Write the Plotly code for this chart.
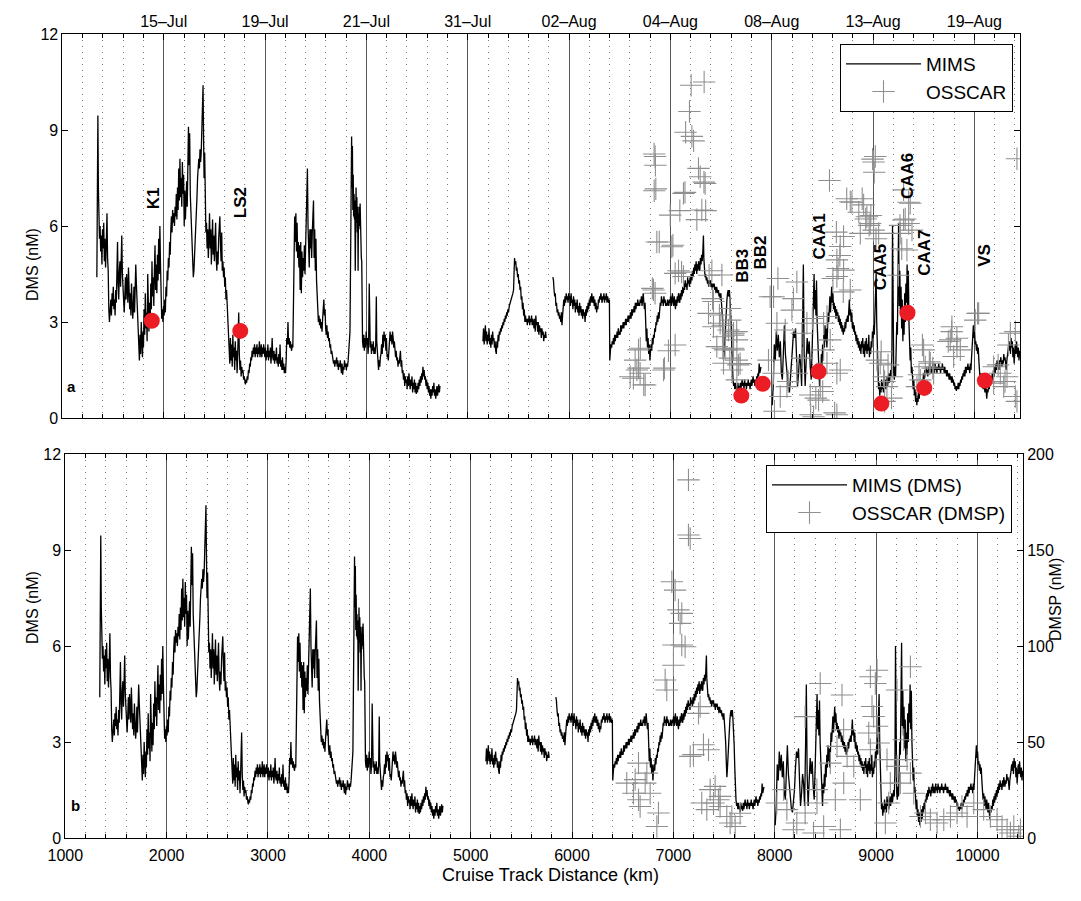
import plotly.graph_objects as go

# ---------------- MIMS DMS (nM) along cruise track (km), four continuous segments ----------------
seg1 = [
(1340,4.4),(1344,5.9),(1350,9.45),(1355,7.2),(1360,5.8),(1366,5.6),(1372,6.0),(1378,5.2),(1384,5.7),(1390,4.8),
(1396,5.9),(1402,5.3),(1408,6.1),(1414,4.9),(1420,5.6),(1426,4.7),(1432,5.3),(1440,6.4),(1446,5.0),(1452,4.6),
(1458,3.4),(1464,3.0),(1470,3.3),(1478,3.7),(1484,3.2),(1490,3.9),(1496,3.5),(1502,4.1),(1508,3.4),(1514,3.7),
(1520,3.2),(1526,4.0),(1532,3.6),(1538,4.4),(1544,5.5),(1550,4.2),(1556,3.7),(1562,4.6),(1568,4.9),(1574,4.1),
(1580,5.2),(1586,5.7),(1592,4.5),(1598,3.9),(1604,3.4),(1610,3.3),(1616,3.8),(1622,4.4),(1628,3.7),(1634,4.5),
(1640,4.1),(1646,3.6),(1652,4.7),(1658,4.0),(1664,3.4),(1670,3.9),(1676,3.2),(1682,4.2),(1688,3.6),(1694,3.1),
(1700,3.4),(1706,4.1),(1712,3.3),(1718,3.9),(1724,4.8),(1730,4.2),(1736,3.6),(1742,3.2),(1748,2.9),(1754,2.2),
(1760,1.8),(1766,2.6),(1772,2.0),(1778,3.0),(1784,2.3),(1790,1.9),(1796,2.7),(1800,2.2),(1806,3.4),(1812,2.6),
(1818,3.9),(1824,2.8),(1830,3.3),(1836,2.4),(1842,4.5),(1848,3.1),(1854,2.7),(1860,3.6),(1866,2.9),(1872,4.2),
(1878,3.4),(1884,4.9),(1890,3.8),(1896,4.4),(1902,3.5),(1908,4.6),(1914,5.4),(1920,4.0),(1926,4.8),(1932,3.9),
(1938,5.1),(1944,4.3),(1950,5.6),(1956,4.5),(1962,6.0),(1968,4.8),(1974,3.6),(1980,3.1),(1986,3.4),(1992,3.0),
(1998,3.5),(2004,3.2),(2010,3.7),(2016,3.3),(2022,4.1),(2028,3.8),(2034,4.6),(2040,4.3),(2046,5.0),(2052,4.7),
(2058,5.5),(2064,5.1),(2070,5.9),(2076,6.3),(2082,5.8),(2088,6.5),(2094,6.1),(2100,6.4),(2106,6.0),(2112,6.6),
(2118,6.3),(2124,7.0),(2130,6.2),(2136,7.2),(2142,6.5),(2148,7.8),(2154,6.8),(2160,8.1),(2166,6.9),(2172,7.5),
(2178,6.6),(2184,8.0),(2190,7.0),(2196,7.6),(2202,6.0),(2208,7.1),(2214,6.2),(2220,6.8),(2226,7.4),(2232,6.6),
(2238,8.4),(2244,9.1),(2250,7.9),(2256,8.9),(2262,7.0),(2268,6.5),(2274,5.6),(2280,4.9),(2286,4.5),(2292,4.4),
(2298,4.6),(2304,5.0),(2310,5.4),(2316,5.9),(2322,6.4),(2328,6.9),(2334,7.5),(2340,7.9),(2346,8.1),(2352,7.8),
(2358,8.4),(2364,8.0),(2370,8.3),(2376,9.0),(2382,9.6),(2388,10.4),(2393,8.8),(2398,7.5),(2404,8.3),(2410,6.8),
(2416,5.8),(2422,6.1),(2428,5.3),(2434,5.9),(2440,5.0),(2446,5.6),(2452,6.4),(2458,5.3),(2464,5.9),(2470,4.8),
(2476,5.5),(2482,6.2),(2488,5.1),(2494,5.7),(2500,4.9),(2506,5.3),(2512,6.1),(2518,5.0),(2524,4.6),(2530,5.2),
(2536,4.8),(2542,5.6),(2548,6.0),(2554,6.3),(2560,5.4),(2566,4.9),(2572,5.8),(2578,4.6),(2584,4.9),(2590,4.4),
(2596,4.7),(2602,4.1),(2608,4.4),(2614,3.7),(2620,4.0),(2626,3.5),(2632,3.6),(2638,3.1),(2646,2.2),(2652,1.7),
(2658,2.5),(2664,1.8),(2670,2.3),(2676,1.6),(2682,2.6),(2688,1.9),(2694,2.2),(2700,1.5),(2706,2.4),(2712,1.8),
(2718,2.1),(2724,1.4),(2730,2.0),(2736,2.6),(2740,3.3),(2746,2.0),(2752,1.5),(2758,1.8),(2764,1.3),(2770,1.6),
(2776,1.4),(2782,1.5),(2788,1.2),(2794,1.3),(2800,1.1),(2806,1.05),(2812,1.2),(2818,1.1),(2824,1.3),(2830,1.2),
(2836,1.5),(2842,1.4),(2848,1.7),(2854,1.6),(2860,1.9),(2866,1.8),(2872,2.1),(2878,1.9),(2884,2.2),(2890,2.0),
(2896,2.3),(2902,1.9),(2908,2.2),(2914,2.0),(2920,2.3),(2926,1.9),(2932,2.2),(2938,2.0),(2944,2.4),(2950,1.9),
(2956,2.1),(2962,2.3),(2968,1.9),(2974,2.2),(2980,2.0),(2986,2.3),(2992,2.1),(2998,1.9),(3004,2.2),(3010,1.8),
(3016,2.1),(3022,1.9),(3028,2.3),(3034,1.8),(3040,2.1),(3046,1.9),(3052,2.2),(3058,1.7),(3064,2.0),(3070,2.5),
(3076,1.9),(3082,1.8),(3088,2.1),(3094,1.7),(3100,2.0),(3106,1.8),(3112,2.2),(3118,1.7),(3124,1.9),(3130,1.6),
(3136,2.0),(3142,1.7),(3148,2.3),(3154,1.6),(3160,1.8),(3166,1.5),(3172,1.9),(3178,1.5),(3184,1.7),(3190,1.4),
(3196,1.6),(3202,1.4),(3208,1.8),(3214,2.5),(3220,2.3),(3226,3.0),(3232,2.3),(3238,2.5),(3244,2.2),(3250,2.4),
(3256,2.2),(3262,2.1),(3268,2.3),(3274,2.2),(3280,3.5),(3286,5.6),(3292,6.3),(3298,5.5),(3304,6.4),(3310,5.2),
(3316,6.1),(3322,5.0),(3328,5.5),(3334,4.7),(3340,5.4),(3346,4.0),(3352,5.5),(3358,3.9),(3364,5.2),(3370,4.4),
(3376,5.0),(3382,4.6),(3388,5.4),(3394,4.5),(3400,5.6),(3406,6.2),(3412,7.0),(3418,7.8),(3424,6.0),(3430,5.4),
(3436,4.7),(3442,5.9),(3448,5.3),(3454,5.9),(3460,5.0),(3466,5.8),(3472,6.4),(3478,6.8),(3484,5.0),(3490,5.9),
(3496,4.6),(3502,5.6),(3508,4.3),(3514,3.8),(3520,3.3),(3526,3.0),(3532,3.2),(3538,2.9),(3544,3.1),(3550,2.8),
(3556,3.0),(3562,2.7),(3568,3.1),(3574,3.3),(3580,3.7),(3586,3.2),(3592,3.4),(3598,2.8),(3604,2.6),(3610,2.9),
(3616,2.5),(3622,2.7),(3628,2.4),(3634,2.5),(3640,2.2),(3646,2.3),(3652,2.0),(3658,2.1),(3664,1.9),(3670,1.8),
(3676,1.7),(3682,1.8),(3688,1.6),(3694,1.8),(3700,1.7),(3706,1.9),(3712,1.6),(3718,1.8),(3724,1.5),(3730,1.7),
(3736,1.6),(3742,1.8),(3748,1.5),(3754,1.4),(3760,1.7),(3766,1.35),(3772,1.6),(3778,1.5),(3784,1.8),(3790,1.6),
(3796,1.7),(3802,1.5),(3808,1.7),(3814,1.6),(3820,1.8),(3826,2.0),(3832,2.4),(3838,2.7),(3842,4.5),(3846,6.6),
(3850,7.4),(3854,8.8),(3858,7.2),(3862,8.5),(3866,6.5),(3870,7.6),(3874,6.3),(3878,7.0),(3882,6.2),(3886,6.8),
(3890,4.6),(3894,6.5),(3898,7.2),(3902,6.1),(3906,6.9),(3910,5.8),(3914,6.6),(3918,4.6),(3922,6.4),(3926,5.9),
(3930,6.6),(3934,6.0),(3938,6.7),(3942,5.4),(3946,6.2),(3950,5.0),(3954,4.9),(3958,3.0),(3962,2.4),(3968,2.2),
(3974,2.6),(3980,2.1),(3986,2.5),(3992,2.2),(3998,2.7),(4004,2.3),(4010,2.5),(4016,2.0),(4022,2.3),(4028,4.2),
(4032,2.6),(4038,2.2),(4044,2.4),(4050,2.0),(4056,2.3),(4062,2.1),(4068,2.4),(4074,2.0),(4080,2.2),(4086,2.0),
(4092,2.3),(4098,3.8),(4102,2.4),(4108,2.0),(4114,1.7),(4120,1.5),(4126,1.8),(4132,1.6),(4138,1.9),(4144,2.0),
(4150,2.3),(4156,2.0),(4162,2.6),(4168,2.2),(4174,2.7),(4180,2.4),(4186,2.6),(4192,2.1),(4198,2.5),(4204,1.9),
(4210,2.0),(4216,1.8),(4222,2.2),(4228,2.5),(4234,2.7),(4240,2.4),(4246,2.6),(4252,2.3),(4258,2.7),(4264,2.5),
(4270,2.2),(4276,2.4),(4282,2.0),(4288,1.9),(4294,2.1),(4300,1.8),(4306,1.9),(4312,1.6),(4318,1.8),(4324,1.7),
(4330,1.9),(4336,2.1),(4342,1.6),(4348,1.8),(4354,1.4),(4360,1.5),(4366,1.2),(4372,1.4),(4378,1.0),(4384,1.3),
(4390,1.1),(4396,1.2),(4402,0.9),(4408,1.3),(4414,1.0),(4420,1.4),(4426,1.1),(4432,0.9),(4438,1.2),(4444,1.0),
(4450,1.3),(4456,0.8),(4462,1.1),(4468,0.9),(4474,1.2),(4480,0.8),(4486,1.1),(4492,0.75),(4498,1.0),(4504,0.8),
(4510,1.1),(4516,0.9),(4522,1.2),(4528,1.0),(4534,1.3),(4540,1.1),(4546,1.4),(4552,1.2),(4558,1.6),(4564,1.3),
(4570,1.5),(4576,1.2),(4582,1.3),(4588,1.0),(4594,1.2),(4600,0.9),(4606,1.1),(4612,0.8),(4618,1.0),(4624,0.7),
(4630,0.9),(4636,0.6),(4642,0.9),(4648,0.7),(4654,1.0),(4660,0.8),(4666,1.1),(4672,0.7),(4678,0.9),(4684,0.6),
(4690,0.8),(4696,1.0),(4702,0.7),(4708,0.9),(4714,1.05),(4720,0.8),(4726,1.0),
]
seg2 = [
(5150,2.4),(5156,2.8),(5162,2.3),(5168,2.6),(5174,2.9),(5180,2.4),(5186,2.7),(5192,2.3),(5198,2.6),(5204,2.4),
(5210,2.8),(5216,2.3),(5222,2.5),(5228,2.2),(5234,2.6),(5240,2.3),(5246,2.7),(5252,2.4),(5258,2.5),(5264,2.2),
(5270,2.4),(5276,2.1),(5282,2.0),(5288,2.4),(5294,2.2),(5300,2.6),(5306,2.4),(5312,2.7),(5318,2.6),(5324,2.8),
(5330,2.7),(5336,2.9),(5342,2.8),(5348,3.0),(5354,2.9),(5360,3.1),(5366,3.0),(5372,3.2),(5378,3.1),(5384,3.3),
(5390,3.2),(5396,3.4),(5402,3.3),(5410,3.5),(5420,3.6),(5430,3.7),(5440,3.8),(5446,3.9),(5452,4.0),(5458,4.7),
(5462,5.0),(5468,4.8),(5474,4.9),(5480,4.6),(5486,4.7),(5492,4.4),(5498,4.5),(5504,4.2),(5510,4.3),(5516,4.0),
(5522,4.1),(5528,3.7),(5534,3.8),(5540,3.4),(5546,3.6),(5552,3.2),(5558,3.4),(5564,3.0),(5570,3.2),(5576,3.0),
(5582,3.1),(5588,2.9),(5594,3.1),(5600,3.0),(5606,3.2),(5612,2.9),(5618,3.1),(5624,3.0),(5630,3.2),(5636,2.9),
(5642,3.1),(5648,3.0),(5654,2.8),(5660,3.1),(5666,2.7),(5672,3.2),(5678,2.9),(5684,3.0),(5690,2.7),(5696,3.0),
(5702,2.6),(5708,2.9),(5714,2.7),(5720,2.8),(5726,2.5),(5732,2.8),(5738,2.6),(5744,2.7),(5750,2.4),(5756,2.6),
(5762,2.5),(5768,2.7),(5774,2.5),
]
seg3 = [
(5840,4.4),(5846,4.3),(5852,4.0),(5858,3.8),(5864,3.9),(5870,3.5),(5876,3.6),(5882,3.3),(5888,3.4),(5894,3.2),
(5900,3.3),(5906,3.1),(5912,3.2),(5918,3.0),(5924,3.3),(5930,2.9),(5936,3.2),(5942,3.4),(5948,3.7),(5954,3.5),
(5960,3.8),(5966,3.6),(5972,3.9),(5978,3.7),(5984,3.8),(5990,3.6),(5996,3.9),(6002,3.7),(6008,3.8),(6014,3.5),
(6020,3.9),(6026,3.6),(6032,3.7),(6038,3.4),(6044,3.8),(6050,3.5),(6056,3.7),(6062,3.3),(6068,3.6),(6074,3.4),
(6080,3.7),(6086,3.3),(6092,3.5),(6098,3.2),(6104,3.6),(6110,3.3),(6116,3.5),(6122,3.2),(6128,3.4),(6134,3.1),
(6140,3.4),(6146,3.2),(6152,3.3),(6158,3.0),(6164,3.4),(6170,3.2),(6176,3.5),(6182,3.3),(6188,3.6),(6194,3.4),
(6200,3.7),(6206,3.5),(6212,3.8),(6218,3.6),(6224,3.9),(6230,3.7),(6236,3.6),(6242,3.8),(6248,3.5),(6254,3.7),
(6260,3.4),(6266,3.6),(6272,3.3),(6278,3.5),(6284,3.4),(6290,3.7),(6296,3.6),(6302,3.8),(6308,3.7),(6314,3.9),
(6320,3.8),(6326,3.6),(6332,3.8),(6338,3.7),(6344,3.9),(6350,3.6),(6356,3.8),(6362,3.7),(6368,3.9),(6374,3.6),
(6380,3.8),(6386,3.7),(6392,3.6),(6398,3.7),(6402,1.8),(6408,2.1),(6414,2.3),(6420,2.2),(6426,2.4),(6432,2.3),
(6438,2.5),(6444,2.3),(6450,2.6),(6456,2.4),(6462,2.6),(6468,2.5),(6474,2.7),(6480,2.5),(6486,2.8),(6492,2.6),
(6498,2.7),(6504,2.6),(6510,2.9),(6516,2.7),(6522,2.9),(6528,2.8),(6534,3.0),(6540,2.8),(6546,3.0),(6552,2.9),
(6558,3.1),(6564,2.9),(6570,3.1),(6576,3.0),(6582,3.2),(6588,3.0),(6594,3.2),(6600,3.1),(6606,3.3),(6612,3.1),
(6618,3.4),(6624,3.2),(6630,3.4),(6636,3.3),(6642,3.5),(6648,3.3),(6654,3.6),(6660,3.4),(6666,3.6),(6672,3.5),
(6678,3.7),(6684,3.5),(6690,3.6),(6696,3.5),(6702,3.7),(6708,3.6),(6714,3.8),(6720,3.5),(6726,3.7),(6732,3.9),
(6738,3.6),(6744,3.4),(6750,3.6),(6756,3.2),(6762,2.4),(6768,2.8),(6774,2.2),(6780,2.5),(6786,2.0),(6792,2.3),
(6798,1.8),(6804,2.1),(6810,2.3),(6816,2.1),(6822,2.5),(6828,2.3),(6834,2.6),(6840,2.5),(6846,2.8),(6852,2.7),
(6858,3.0),(6864,2.9),(6870,3.2),(6876,3.0),(6882,3.3),(6888,3.1),(6894,3.4),(6900,3.6),(6906,3.5),(6912,3.8),
(6918,3.6),(6924,3.7),(6930,3.5),(6936,3.8),(6942,3.6),(6948,3.7),(6954,3.5),(6960,3.6),(6966,3.5),(6972,3.7),
(6978,3.6),(6984,3.5),(6990,3.7),(6996,3.6),(7002,3.8),(7008,3.5),(7014,3.7),(7020,3.9),(7026,3.6),(7032,3.5),
(7038,3.8),(7044,3.6),(7050,3.4),(7056,3.7),(7062,3.5),(7068,3.8),(7074,3.6),(7080,3.9),(7086,3.7),(7092,3.6),
(7098,3.9),(7104,3.7),(7110,4.0),(7116,3.8),(7122,4.1),(7128,3.9),(7134,4.2),(7140,4.0),(7146,4.3),(7152,4.1),
(7158,4.2),(7164,4.0),(7170,4.4),(7176,4.2),(7182,4.3),(7188,4.1),(7194,4.4),(7200,4.2),(7206,4.5),(7212,4.3),
(7218,4.6),(7224,4.4),(7230,4.7),(7236,4.5),(7242,4.8),(7248,4.6),(7254,4.9),(7260,4.5),(7266,4.8),(7272,4.6),
(7278,4.9),(7284,4.7),(7290,4.6),(7296,5.0),(7302,4.8),(7308,5.1),(7314,4.9),(7320,5.2),(7326,5.7),(7330,5.0),
(7336,4.6),(7342,4.4),(7348,4.5),(7354,4.3),(7360,4.4),(7366,4.2),(7372,4.3),(7378,4.1),(7384,4.3),(7390,4.2),
(7396,4.3),(7402,4.1),(7408,4.2),(7414,4.0),(7420,4.2),(7426,4.1),(7432,4.2),(7438,4.0),(7444,4.1),(7450,3.9),
(7456,4.1),(7462,4.0),(7468,3.9),(7474,4.0),(7480,3.8),(7486,3.9),(7492,3.7),(7498,3.9),(7504,3.6),(7510,3.5),
(7516,3.0),(7522,2.4),(7528,1.9),(7534,2.2),(7540,2.7),(7546,3.1),(7552,3.4),(7558,3.7),(7564,3.9),(7570,4.0),
(7576,3.8),(7582,4.0),(7588,3.7),(7594,3.4),(7600,2.9),(7606,2.2),(7612,1.5),(7618,1.2),(7624,1.0),(7630,1.1),
(7636,0.9),(7642,1.1),(7648,0.9),(7654,1.0),(7660,0.8),(7666,1.1),(7672,0.9),(7678,1.0),(7684,0.85),(7690,1.1),
(7696,0.9),(7702,1.0),(7708,1.2),(7714,1.0),(7720,1.1),(7726,0.9),(7732,1.2),(7738,1.0),(7744,1.1),(7750,0.9),
(7756,1.1),(7762,1.0),(7768,1.2),(7774,1.0),(7780,1.1),(7786,0.9),(7792,1.0),(7798,1.2),(7804,1.0),(7810,1.1),
(7816,1.3),(7822,1.1),(7828,1.2),(7834,1.0),(7840,1.2),(7846,1.1),(7852,1.3),(7858,1.2),(7864,1.4),(7870,1.3),
(7876,1.7),(7882,1.4),(7888,1.5),(7894,1.6),
]
seg4 = [
(8005,0.4),(8015,1.0),(8025,2.3),(8035,1.8),(8045,2.7),(8055,2.1),(8065,2.6),(8075,1.9),(8085,2.4),(8095,1.4),
(8105,1.2),(8115,2.5),(8125,2.9),(8135,2.0),(8145,1.6),(8155,1.2),(8165,0.9),(8175,0.8),(8185,1.2),(8195,1.5),
(8205,2.2),(8215,2.7),(8225,2.5),(8235,2.8),(8245,1.8),(8255,1.0),(8265,1.4),(8275,2.0),(8285,1.7),(8295,1.0),
(8305,3.0),(8312,4.8),(8320,2.0),(8330,1.0),(8340,1.8),(8350,2.5),(8360,2.0),(8370,2.4),(8380,1.6),(8390,1.2),
(8400,2.3),(8410,3.6),(8418,4.5),(8424,3.4),(8430,4.0),(8436,3.2),(8442,4.3),(8448,3.0),(8454,2.4),(8460,1.8),
(8466,1.5),(8472,1.0),(8478,1.7),(8484,1.4),(8490,2.0),(8496,1.6),(8502,2.3),(8508,1.9),(8514,2.6),(8520,2.2),
(8526,2.9),(8532,2.4),(8538,2.8),(8544,2.2),(8550,2.7),(8556,3.3),(8562,3.0),(8568,3.6),(8574,3.8),(8580,3.3),
(8586,3.9),(8592,4.1),(8598,3.6),(8604,3.9),(8610,3.4),(8616,3.6),(8622,3.3),(8628,3.5),(8634,3.1),(8640,3.4),
(8646,3.2),(8652,3.3),(8658,3.0),(8664,3.2),(8670,2.9),(8676,3.1),(8682,2.8),(8688,3.0),(8694,2.7),(8700,2.9),
(8706,2.6),(8712,2.8),(8718,2.7),(8724,3.0),(8730,2.8),(8736,3.1),(8742,3.0),(8748,3.2),(8754,3.0),(8760,3.3),
(8766,3.7),(8772,3.2),(8778,3.4),(8784,3.0),(8790,3.3),(8796,2.8),(8802,3.0),(8808,2.7),(8814,2.9),(8820,2.6),
(8826,2.7),(8832,2.4),(8838,2.6),(8844,2.3),(8850,2.5),(8856,2.2),(8862,2.4),(8868,2.1),(8874,2.3),(8880,2.0),
(8886,2.4),(8892,2.2),(8898,2.5),(8904,2.0),(8910,2.3),(8916,1.9),(8922,2.4),(8928,2.1),(8934,2.5),(8940,2.0),
(8946,2.3),(8952,2.1),(8958,2.6),(8964,1.9),(8970,2.2),(8976,2.0),(8982,2.4),(8988,2.2),(8994,2.7),(9000,2.5),
(9006,2.9),(9012,2.6),(9018,3.1),(9024,3.6),(9030,4.5),(9036,3.0),(9042,2.0),(9048,1.2),(9054,0.9),(9060,1.1),
(9066,0.7),(9072,1.0),(9078,0.8),(9084,1.2),(9090,0.9),(9096,1.1),(9102,0.8),(9108,1.3),(9114,1.0),(9120,1.2),
(9126,0.9),(9132,1.1),(9138,1.3),(9144,1.0),(9150,1.2),(9156,1.4),(9162,1.1),(9168,1.3),(9174,1.5),(9180,1.3),
(9186,2.0),(9192,6.0),(9198,3.0),(9204,1.4),(9210,1.2),(9216,1.6),(9222,1.3),(9228,2.2),(9234,3.0),(9240,2.6),
(9246,4.0),(9252,6.1),(9258,3.5),(9264,4.6),(9270,3.2),(9276,4.1),(9282,2.8),(9288,3.7),(9294,2.4),(9300,3.3),
(9306,2.6),(9312,3.9),(9318,3.0),(9324,4.2),(9330,3.6),(9336,4.8),(9342,3.4),(9348,4.6),(9354,3.0),(9360,2.4),
(9366,1.8),(9372,2.2),(9378,1.4),(9384,1.6),(9390,1.1),(9396,0.9),(9402,1.2),(9408,0.7),(9414,0.9),(9420,0.5),
(9426,0.8),(9432,0.4),(9438,0.7),(9444,0.5),(9450,0.9),(9456,0.6),(9462,1.0),(9468,0.8),(9474,1.1),(9480,0.9),
(9486,1.2),(9492,1.1),(9498,1.4),(9504,1.2),(9510,1.5),(9516,1.3),(9522,1.6),(9528,1.4),(9534,1.5),(9540,1.3),
(9546,1.6),(9552,1.4),(9558,1.7),(9564,1.5),(9570,1.4),(9576,1.6),(9582,1.4),(9588,1.7),(9594,1.5),(9600,1.6),
(9606,1.4),(9612,1.7),(9618,1.5),(9624,1.6),(9630,1.4),(9636,1.6),(9642,1.5),(9648,1.7),(9654,1.5),(9660,1.6),
(9666,1.4),(9672,1.6),(9678,1.5),(9684,1.7),(9690,1.5),(9696,1.6),(9702,1.4),(9708,1.6),(9714,1.4),(9720,1.5),
(9726,1.3),(9732,1.5),(9738,1.3),(9744,1.4),(9750,1.2),(9756,1.4),(9762,1.2),(9768,1.3),(9774,1.1),(9780,1.3),
(9786,1.1),(9792,1.2),(9798,1.0),(9804,1.1),(9810,0.9),(9816,1.0),(9822,0.85),(9828,1.0),(9834,0.9),(9840,1.1),
(9846,0.9),(9852,1.1),(9858,1.0),(9864,1.2),(9870,1.1),(9876,1.3),(9882,1.2),(9888,1.4),(9894,1.3),(9900,1.5),
(9906,1.3),(9912,1.6),(9918,1.4),(9924,1.6),(9930,1.5),(9936,1.7),(9942,1.5),(9948,1.6),(9954,1.4),(9960,1.7),
(9966,1.5),(9972,1.9),(9978,2.2),(9984,2.5),(9990,2.9),(9996,2.5),(10002,2.7),(10008,2.3),(10014,2.4),(10020,2.1),
(10026,2.3),(10032,2.0),(10038,2.2),(10044,1.8),(10050,1.6),(10056,1.2),(10062,1.4),(10068,1.0),(10074,1.3),(10080,1.1),
(10086,0.9),(10092,1.2),(10098,1.0),(10104,0.8),(10110,1.1),(10116,0.9),(10122,0.6),(10128,0.9),(10134,0.8),(10140,1.0),
(10146,0.9),(10152,1.2),(10158,1.0),(10164,1.3),(10170,1.1),(10176,1.4),(10182,1.2),(10188,1.5),(10194,1.3),(10200,1.6),
(10206,1.4),(10212,1.7),(10218,1.5),(10224,1.8),(10230,1.6),(10236,1.7),(10242,1.5),(10248,1.8),(10254,1.6),(10260,1.9),
(10266,1.7),(10272,1.6),(10278,1.8),(10284,1.7),(10290,2.0),(10296,1.8),(10302,1.9),(10308,1.7),(10314,1.5),(10320,1.8),
(10326,1.9),(10332,2.1),(10338,2.3),(10344,2.1),(10350,2.4),(10356,2.0),(10362,2.5),(10368,2.2),(10374,2.4),(10380,1.9),
(10386,2.2),(10392,1.7),(10398,2.0),(10404,2.3),(10410,2.0),(10416,2.4),(10422,2.1),(10428,1.9),(10434,2.2),(10440,1.8),
(10446,2.1),
]

# ---------------- OSSCAR DMS (nM), panel a ----------------
osscar_dms = [
(6603,1.29),(6635,1.24),(6652,1.81),(6669,1.5),(6686,1.56),(6685,2.13),(6701,1.4),(6703,2.18),(6737,1.04),(6751,1.03),
(6822,4.05),(6833,4.0),(6840,7.1),(6849,8.17),(6852,7.9),(6856,7.16),(6839,8.25),(6866,5.5),(6849,3.9),(6890,5.5),
(6932,1.5),(6941,1.56),(6981,2.1),(6998,6.34),(7014,5.35),(7025,5.4),(7047,4.52),(7047,2.28),(7080,4.6),(7093,6.48),
(7110,4.56),(7129,7.02),(7129,4.42),(7144,7.05),(7150,8.93),(7188,9.58),(7205,10.4),(7212,8.8),(7229,8.66),(7261,6.2),
(7277,7.8),(7294,7.54),(7310,6.5),(7333,10.5),(7331,7.37),(7343,7.33),(7348,6.48),(7376,3.27),(7382,4.46),(7409,4.6),
(7416,3.73),(7425,3.64),(7425,2.85),(7458,2.23),(7484,3.22),(7491,2.96),(7508,4.47),(7518,2.9),(7518,2.18),(7524,2.54),
(7524,1.71),(7540,2.13),(7573,2.75),(7586,3.42),(7586,1.87),(7590,3.06),(7606,1.5),(7620,2.59),(7620,2.18),(7623,2.65),
(7623,2.13),(7654,2.7),(7656,2.44),(7656,1.81),(7656,1.19),(7671,1.66),(7688,1.7),(7968,1.81),(7984,3.79),
(8018,3.79),(8018,1.4),(8027,0.21),(8051,2.96),(8061,4.36),(8084,0.67),(8133,2.75),(8150,0.98),(8163,1.14),(8199,3.37),
(8214,3.73),(8248,4.25),(8249,1.4),(8298,2.65),(8299,1.87),(8347,2.96),(8380,0.72),(8384,0.1),(8401,3.11),(8413,0.04),
(8435,0.62),(8462,0.56),(8479,0.98),(8503,0.83),(8512,2.96),(8512,2.13),(8545,3.17),(8545,1.71),(8570,7.42),(8577,2.44),
(8604,4.36),(8621,0.16),(8638,5.81),(8643,4.94),(8643,4.42),(8643,1.4),(8643,0.1),(8655,4.67),(8672,5.08),(8676,5.36),
(8676,1.5),(8706,3.94),(8709,5.67),(8709,4.62),(8740,6.85),(8775,6.76),(8775,4.0),(8791,6.74),(8859,6.43),(8874,5.77),
(8893,6.85),(8907,6.66),(8927,6.22),(8939,6.29),(8961,6.02),(8972,6.08),(8978,6.33),(8995,8.09),(9005,8.0),(9005,5.87),
(9012,7.68),(9022,8.17),(9029,5.6),(9038,1.81),(9055,5.77),(9071,1.71),(9080,2.07),(9104,1.29),(9114,1.14),(9114,0.52),
(9137,0.98),(9148,1.66),(9182,0.62),(9187,1.29),(9250,4.46),(9266,6.02),(9268,5.77),(9283,5.29),(9301,6.19),(9301,7.13),
(9317,6.22),(9334,5.25),(9351,6.74),(9351,6.08),(9367,6.71),(9384,5.87),(9433,0.98),(9453,1.35),(9466,1.19),(9487,2.28),
(9499,2.13),(9515,1.6),(9555,1.76),(9565,1.71),(9589,1.56),(9598,1.4),(9742,2.39),(9762,2.44),(9776,2.7),(9778,2.85),
(9795,1.92),(9827,2.49),(9828,2.23),(9861,2.13),(10008,3.06),(10031,3.27),(10042,3.27),(10190,1.6),(10190,1.09),(10234,1.66),
(10256,1.4),(10289,0.98),(10302,1.14),(10322,1.29),(10336,2.28),(10355,2.65),(10420,8.1),(10404,2.7),(10404,0.67),(10420,0.52),
]

# ---------------- OSSCAR DMSP (nM), panel b (right axis) ----------------
osscar_dmsp = [
(6540,28.6),(6606,23.3),(6623,30.4),(6656,39.0),(6656,19.9),(6672,16.4),(6722,28.6),(6738,33.8),(6771,23.3),(6837,6.0),
(6853,13.0),(6919,82.3),(6935,77.1),(6985,133.5),(7001,100.5),(7001,90.0),(7017,129.1),(7050,118.8),(7067,111.8),(7083,117.0),
(7083,100.5),(7116,99.6),(7149,186.5),(7149,157.8),(7166,156.0),(7166,42.5),(7198,43.4),(7248,64.9),(7264,68.4),(7297,48.6),
(7347,46.0),(7280,18.2),(7330,14.8),(7363,25.2),(7396,18.2),(7412,26.9),(7445,19.9),(7461,16.4),(7461,21.7),(7527,11.2),
(7560,7.8),(7577,11.2),(7610,6.0),(7659,12.9),(8021,18.2),(8087,25.2),(8120,14.8),(8185,4.3),(8218,7.8),(8300,13.0),
(8300,63.2),(8383,2.6),(8416,25.2),(8417,18.2),(8449,80.5),(8483,6.0),(8549,39.0),(8598,19.9),(8615,47.7),(8648,4.3),
(8664,74.5),(8680,56.4),(8681,28.6),(8714,42.5),(8780,37.3),(8845,19.9),(8928,54.7),(8944,84.0),(8944,46.0),(8960,68.5),
(8976,63.3),(8993,80.5),(9010,87.4),(9010,58.2),(9026,49.5),(9092,7.8),(9108,40.8),(9125,18.2),(9141,28.6),(9207,37.3),
(9207,77.1),(9240,28.6),(9273,51.2),(9306,40.8),(9339,89.2),(9339,33.8),(9372,23.3),(9438,11.2),(9487,13.0),(9536,9.5),
(9602,7.8),(9668,9.5),(9734,11.2),(9799,13.0),(9848,16.4),(9898,11.2),(9964,18.2),(10062,14.8),(10128,11.2),(10194,9.5),
(10243,6.0),(10293,4.3),(10326,2.6),(10359,6.0),(10408,0.9),(10425,4.3),
]

# ---------------- stations (red dots, labels) ----------------
station_names = ["K1", "LS2", "BB3", "BB2", "CAA1", "CAA5", "CAA6", "CAA7", "VS"]
station_km = [1882, 2755, 7700, 7911, 8462, 9082, 9340, 9505, 10103]
station_dms = [3.04, 2.72, 0.70, 1.07, 1.45, 0.45, 3.29, 0.94, 1.17]
label_km = [1898, 2765, 7705, 7891, 8469, 9080, 9341, 9511, 10098]
label_dms = [6.88, 6.72, 4.75, 5.16, 5.68, 4.72, 7.55, 5.16, 5.08]

date_km = [2000, 3000, 4000, 5000, 6000, 7000, 8000, 9000, 10000]
date_labels = ["15–Jul", "19–Jul", "21–Jul", "31–Jul", "02–Aug", "04–Aug", "08–Aug", "13–Aug", "19–Aug"]
dist_ticks = [1000, 2000, 3000, 4000, 5000, 6000, 7000, 8000, 9000, 10000]
dist_labels = ["1000", "2000", "3000", "4000", "5000", "6000", "7000", "8000", "9000", "10000"]
dms_ticks = [0, 3, 6, 9, 12]
dmsp_ticks = [0, 50, 100, 150, 200]


def join(*segs):
    xs, ys = [], []
    for i, seg in enumerate(segs):
        if i:
            xs.append(None)
            ys.append(None)
        xs += [p[0] for p in seg]
        ys += [p[1] for p in seg]
    return xs, ys


mx, my = join(seg1, seg2, seg3, seg4)
ox = [p[0] for p in osscar_dms]
oy = [p[1] for p in osscar_dms]
px = [p[0] for p in osscar_dmsp]
py = [p[1] for p in osscar_dmsp]

FONT = "Liberation Sans, Arial, Helvetica, sans-serif"
OFF = 8                     # page body margin in the browser
W, H = 1081 - OFF, 901 - OFF


def fx(p):                  # page pixel -> paper fraction
    return (p - OFF) / W


def fy(p):
    return 1 - (p - OFF) / H


CROSS = "#8f8f8f"

fig = go.Figure()
fig.add_trace(go.Scatter(x=mx, y=my, mode="lines", name="MIMS", line=dict(color="black", width=1.3),
                         xaxis="x", yaxis="y", legend="legend"))
fig.add_trace(go.Scatter(x=ox, y=oy, mode="markers", name="OSSCAR",
                         marker=dict(symbol="cross-thin", size=16, line=dict(color=CROSS, width=1.1)),
                         xaxis="x", yaxis="y", legend="legend"))
fig.add_trace(go.Scatter(x=station_km, y=station_dms, mode="markers", showlegend=False,
                         marker=dict(color="#ec1c24", size=16), xaxis="x", yaxis="y"))
fig.add_trace(go.Scatter(x=mx, y=my, mode="lines", name="MIMS (DMS)", line=dict(color="black", width=1.3),
                         xaxis="x2", yaxis="y2", legend="legend2"))
fig.add_trace(go.Scatter(x=px, y=py, mode="markers", name="OSSCAR (DMSP)",
                         marker=dict(symbol="cross-thin", size=16, line=dict(color=CROSS, width=1.1)),
                         xaxis="x2", yaxis="y3", legend="legend2"))

xcommon = dict(range=[1000, 10450], ticks="inside", ticklen=6, tickcolor="black", showline=True,
               linecolor="black", linewidth=1, showgrid=True, gridcolor="#555555", gridwidth=1,
               zeroline=False, automargin=False, tickfont=dict(size=16, color="black", family=FONT),
               minor=dict(tickmode="linear", tick0=1000, dtick=200, ticks="inside", ticklen=4,
                          tickcolor="black", showgrid=True, griddash="1px,5px", gridcolor="#7a7a7a",
                          gridwidth=1))
ycommon = dict(range=[0, 12], tickmode="array", tickvals=dms_ticks, ticks="inside", ticklen=6,
               tickcolor="black", showline=True, linecolor="black", linewidth=1, showgrid=False,
               zeroline=False, automargin=False, tickfont=dict(size=16, color="black", family=FONT))

ann = []
for name, lx, ly in zip(station_names, label_km, label_dms):
    ann.append(dict(x=lx, y=ly, xref="x", yref="y", text="<b>%s</b>" % name, textangle=-90,
                    showarrow=False, font=dict(size=17, color="black", family=FONT)))
ann += [
    dict(x=1085, y=0.99, xref="x", yref="y", text="<b>a</b>", showarrow=False,
         font=dict(size=15, color="black", family=FONT)),
    dict(x=1096, y=1.02, xref="x2", yref="y2", text="<b>b</b>", showarrow=False,
         font=dict(size=15, color="black", family=FONT)),
    dict(x=fx(22), y=fy(226), xref="paper", yref="paper", text="DMS (nM)", textangle=-90,
         showarrow=False, font=dict(size=16, color="black", family=FONT)),
    dict(x=fx(22), y=fy(646), xref="paper", yref="paper", text="DMS (nM)", textangle=-90,
         showarrow=False, font=dict(size=16, color="black", family=FONT)),
    dict(x=fx(1066), y=fy(643), xref="paper", yref="paper", text="DMSP (nM)", textangle=-90,
         showarrow=False, font=dict(size=16, color="black", family=FONT)),
    dict(x=fx(550), y=fy(887), xref="paper", yref="paper", text="Cruise Track Distance (km)",
         showarrow=False, font=dict(size=18, color="black", family=FONT)),
]

fig.update_layout(
    width=W, height=H, margin=dict(l=0, r=0, t=0, b=0),
    paper_bgcolor="white", plot_bgcolor="white",
    font=dict(family=FONT, color="black"),
    xaxis=dict(xcommon, domain=[fx(62.4), fx(1020)], anchor="y", side="top", mirror="ticks",
               tickmode="array", tickvals=date_km, ticktext=date_labels),
    yaxis=dict(ycommon, domain=[fy(418), fy(34)], anchor="x", mirror="ticks"),
    xaxis2=dict(xcommon, domain=[fx(65.3), fx(1023)], anchor="y2", side="bottom", mirror="ticks",
                tickmode="array", tickvals=dist_ticks, ticktext=dist_labels, ticklabelstandoff=3),
    yaxis2=dict(ycommon, domain=[fy(838), fy(454)], anchor="x2"),
    yaxis3=dict(ycommon, range=[0, 200], tickvals=dmsp_ticks, overlaying="y2", side="right", anchor="x2"),
    legend=dict(x=fx(1013), xanchor="right", y=fy(44), yanchor="top", bgcolor="white",
                bordercolor="black", borderwidth=1, itemwidth=75, tracegroupgap=0,
                font=dict(size=19, family=FONT, color="black")),
    legend2=dict(x=fx(1012), xanchor="right", y=fy(465), yanchor="top", bgcolor="white",
                 bordercolor="black", borderwidth=1, itemwidth=75, tracegroupgap=0,
                 font=dict(size=19, family=FONT, color="black")),
    annotations=ann,
    showlegend=True,
)

fig.write_html("out.html")
